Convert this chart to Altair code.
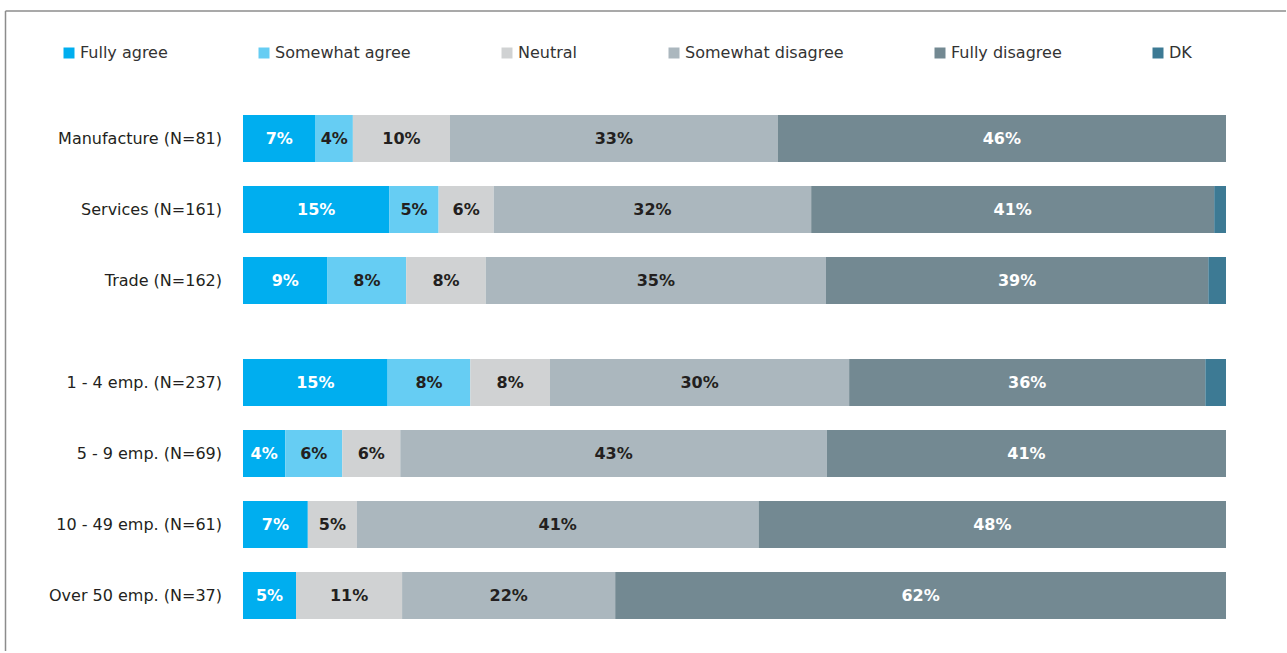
import altair as alt
import pandas as pd

groups = ["Manufacture (N=81)", "Services (N=161)", "Trade (N=162)",
          "1 - 4 emp. (N=237)", "5 - 9 emp. (N=69)", "10 - 49 emp. (N=61)",
          "Over 50 emp. (N=37)"]
categories = ["Fully agree", "Somewhat agree", "Neutral",
              "Somewhat disagree", "Fully disagree", "DK"]
fully_agree = [7.4, 14.9, 8.6, 14.7, 4.3, 6.6, 5.4]
somewhat_agree = [3.8, 5.0, 8.0, 8.4, 5.8, 0, 0]
neutral = [9.9, 5.6, 8.1, 8.1, 5.9, 5.0, 10.8]
somewhat_disagree = [33.4, 32.3, 34.6, 30.4, 43.4, 40.9, 21.7]
fully_disagree = [45.7, 41.0, 38.9, 36.2, 40.6, 47.6, 62.2]
dk = [0, 1.2, 1.8, 2.1, 0, 0, 0]

colors = ["#00AEEF", "#66CDF3", "#D0D2D3", "#ABB7BE", "#738992", "#3D7A94"]

series = [fully_agree, somewhat_agree, neutral, somewhat_disagree, fully_disagree, dk]

# layout: gap between sector block and size block (in row units)
GAP = 31 / 71
positions = [i + (GAP if i >= 3 else 0) for i in range(len(groups))]

rows = []
for gi, g in enumerate(groups):
    for ci, c in enumerate(categories):
        rows.append({"group": g, "cat": c, "value": series[ci][gi],
                     "order": ci, "pos": positions[gi]})
df = pd.DataFrame(rows)
rows_df = pd.DataFrame({"group": groups, "pos": positions})

FONT = "DejaVu Sans"

yscale = alt.Scale(domain=[-0.5, positions[-1] + 0.5], reverse=True, nice=False,
                   zero=False, padding=0)
xscale = alt.Scale(domain=[0, 1], nice=False, zero=False, padding=0)

base = alt.Chart(df).transform_stack(
    stack="value", groupby=["group"], as_=["x0", "x1"], offset="normalize",
    sort=[alt.SortField("order", "ascending")]
)

bars = base.mark_bar(size=47).encode(
    x=alt.X("x0:Q", scale=xscale, axis=None),
    x2="x1:Q",
    y=alt.Y("pos:Q", scale=yscale, axis=None),
    color=alt.Color("cat:N", scale=alt.Scale(domain=categories, range=colors),
                    legend=alt.Legend(orient="none", legendX=-182, legendY=-58,
                                      direction="horizontal", columns=6,
                                      columnPadding=88, title=None,
                                      symbolType="square", symbolSize=121,
                                      symbolStrokeWidth=0, symbolOpacity=1,
                                      labelFont=FONT, labelFontSize=16,
                                      labelColor="#333333", labelOffset=3,
                                      labelLimit=300)),
)

text = base.transform_filter(
    "datum.value > 0 && datum.cat != 'DK'"
).transform_calculate(
    mid="(datum.x0 + datum.x1) / 2",
    label="format(datum.value, '.0f') + '%'"
).mark_text(font=FONT, fontWeight="bold", fontSize=16, baseline="middle").encode(
    x=alt.X("mid:Q", scale=xscale, axis=None),
    y=alt.Y("pos:Q", scale=yscale, axis=None),
    text="label:N",
    color=alt.condition("datum.cat == 'Fully agree' || datum.cat == 'Fully disagree'",
                        alt.value("white"), alt.value("#231F20")),
)

labels = alt.Chart(rows_df).mark_text(
    align="right", baseline="middle", font=FONT, fontSize=16, color="#231F20"
).encode(
    x=alt.value(-21),
    y=alt.Y("pos:Q", scale=yscale, axis=None),
    text="group:N",
)

frame_df = pd.DataFrame({"k": [0]})
frame_top = alt.Chart(frame_df).mark_rule(color="#8c8c8c", strokeWidth=1.5).encode(
    x=alt.value(-237.5), x2=alt.value(1043), y=alt.value(-92)
)
frame_left = alt.Chart(frame_df).mark_rule(color="#8c8c8c", strokeWidth=1.5).encode(
    x=alt.value(-237.5), y=alt.value(-92), y2=alt.value(548)
)

chart = alt.layer(frame_top, frame_left, bars, text, labels).properties(
    width=983, height=528,
    padding={"left": 4, "top": 10, "right": 0, "bottom": 0},
).configure_view(stroke=None)

chart.save("out.html", embed_options={"renderer": "svg", "actions": False})
